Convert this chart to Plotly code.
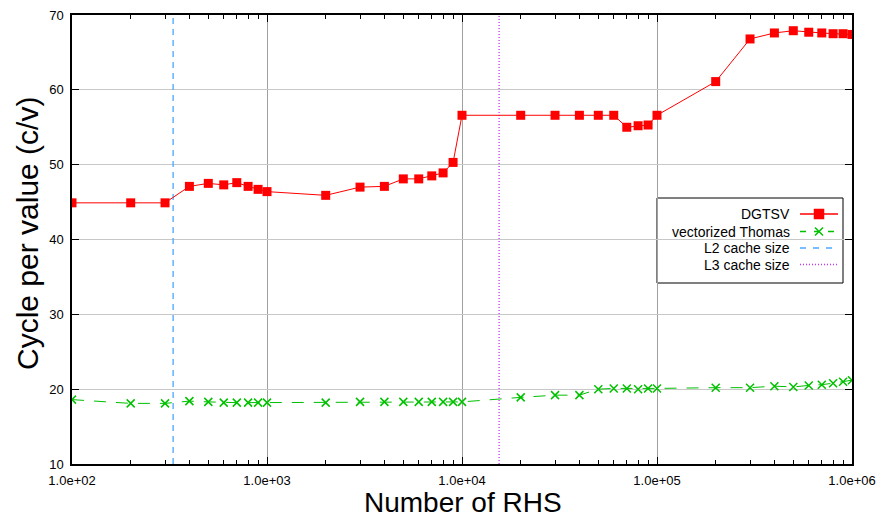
import plotly.graph_objects as go

rhs = [100, 200, 300, 400, 500, 600, 700, 800, 900,
       1000, 2000, 3000, 4000, 5000, 6000, 7000, 8000, 9000,
       10000, 20000, 30000, 40000, 50000, 60000, 70000, 80000, 90000,
       100000, 200000, 300000, 400000, 500000, 600000, 700000, 800000, 900000,
       1000000]
dgtsv = [44.9, 44.9, 44.9, 47.1, 47.5, 47.3, 47.6, 47.1, 46.7,
         46.4, 45.9, 47.0, 47.1, 48.1, 48.1, 48.5, 48.9, 50.3,
         56.6, 56.6, 56.6, 56.6, 56.6, 56.6, 55.0, 55.2, 55.3,
         56.6, 61.1, 66.8, 67.6, 67.9, 67.7, 67.6, 67.5, 67.5,
         67.4]
thomas = [18.6, 18.1, 18.1, 18.4, 18.3, 18.2, 18.2, 18.2, 18.2,
          18.2, 18.2, 18.3, 18.3, 18.3, 18.3, 18.3, 18.3, 18.3,
          18.3, 18.9, 19.2, 19.2, 20.0, 20.1, 20.1, 20.0, 20.1,
          20.1, 20.2, 20.2, 20.4, 20.3, 20.5, 20.6, 20.8, 21.0,
          21.2]
l2_cache = 330
l3_cache = 15500
y_range = [10, 70]
x_tickvals = [1e2, 1e3, 1e4, 1e5, 1e6]
x_ticktext = ["1.0e+02", "1.0e+03", "1.0e+04", "1.0e+05", "1.0e+06"]
y_tickvals = [10, 20, 30, 40, 50, 60, 70]
legend_names = ["DGTSV", "vectorized Thomas", "L2 cache size", "L3 cache size"]
x_title = "Number of RHS"
y_title = "Cycle per value (c/v)"

RED = "#ff0000"
GREEN = "#00c000"
BLUE = "#4da6ff"
MAGENTA = "#cc33ff"
FONT = "Liberation Sans, Arial"

fig = go.Figure()
fig.add_trace(go.Scatter(x=[l2_cache, l2_cache], y=y_range, mode="lines",
                         line=dict(color=BLUE, width=1.3, dash="6px,5px"), showlegend=False))
fig.add_trace(go.Scatter(x=[l3_cache, l3_cache], y=y_range, mode="lines",
                         line=dict(color=MAGENTA, width=1.3, dash="1px,2px"), showlegend=False))
fig.add_trace(go.Scatter(x=rhs, y=dgtsv, mode="lines+markers",
                         line=dict(color=RED, width=1),
                         marker=dict(symbol="square", size=9, color=RED), showlegend=False))
fig.add_trace(go.Scatter(x=rhs, y=thomas, mode="lines+markers",
                         line=dict(color=GREEN, width=1, dash="12px,10px"),
                         marker=dict(symbol="x-thin", size=8, color=GREEN,
                                     line=dict(color=GREEN, width=1.5)), showlegend=False))

# custom gnuplot-style legend (text on left, sample on right)
L, R, T, B = 72, 852, 15, 464
def px(xp): return (xp - L) / (R - L)
def py(yp): return (B - yp) / (B - T)

rows_y = [214, 231.5, 248, 264.5]
styles = [
    dict(color=RED, dash="solid", marker="square", msize=9),
    dict(color=GREEN, dash="6px,8px", marker="x-thin", msize=8),
    dict(color=BLUE, dash="6px,7px", marker=None, msize=0),
    dict(color=MAGENTA, dash="1px,2px", marker=None, msize=0),
]
annotations = []
for name, yy, st in zip(legend_names, rows_y, styles):
    annotations.append(dict(x=px(792), y=py(yy), xref="paper", yref="paper",
                            text=name, showarrow=False, xanchor="right", yanchor="middle",
                            font=dict(family=FONT, size=14, color="black")))
    mk = dict(symbol=st["marker"], size=st["msize"], color=st["color"],
              line=dict(color=st["color"], width=1.5)) if st["marker"] else None
    fig.add_trace(go.Scatter(x=[px(800), px(838)], y=[py(yy), py(yy)], mode="lines",
                             line=dict(color=st["color"], width=1.3, dash=st["dash"]),
                             xaxis="x2", yaxis="y2", showlegend=False, hoverinfo="skip"))
    if mk:
        fig.add_trace(go.Scatter(x=[px(819)], y=[py(yy)], mode="markers", marker=mk,
                                 xaxis="x2", yaxis="y2", showlegend=False, hoverinfo="skip"))

# axis titles
annotations.append(dict(x=px(463), y=py(502), xref="paper", yref="paper", text=x_title,
                        showarrow=False, xanchor="center", yanchor="middle",
                        font=dict(family=FONT, size=28, color="black")))
annotations.append(dict(x=px(27), y=py(234), xref="paper", yref="paper", text=y_title,
                        showarrow=False, xanchor="center", yanchor="middle", textangle=-90,
                        font=dict(family=FONT, size=30, color="black")))

fig.add_shape(type="rect", xref="paper", yref="paper",
              x0=px(657), x1=px(843), y0=py(283), y1=py(198),
              line=dict(color="black", width=1), fillcolor="white", layer="below")

fig.update_layout(
    width=882, height=518,
    margin=dict(l=L, r=882 - R, t=T, b=518 - B, autoexpand=False),
    paper_bgcolor="white", plot_bgcolor="white",
    font=dict(family=FONT, size=13, color="black"),
    annotations=annotations,
    xaxis=dict(type="log", range=[2, 6], tickvals=x_tickvals, ticktext=x_ticktext,
               showgrid=True, gridcolor="#a0a0a0", gridwidth=1, automargin=False,
               ticks="inside", ticklen=7, tickcolor="black", mirror="allticks",
               showline=True, linecolor="black", linewidth=1.5,
               ticklabelstandoff=4,
               minor=dict(ticks="inside", ticklen=4, tickcolor="black",
                          tickvals=[m * 10 ** e for e in range(2, 6) for m in range(2, 10)],
                          showgrid=False),
               zeroline=False),
    yaxis=dict(range=y_range, tickvals=y_tickvals, automargin=False,
               showgrid=True, gridcolor="#c8c8c8", gridwidth=1,
               ticks="inside", ticklen=7, tickcolor="black", mirror="allticks",
               showline=True, linecolor="black", linewidth=1.5,
               ticklabelstandoff=4,
               zeroline=False),
    xaxis2=dict(overlaying="x", range=[0, 1], visible=False, fixedrange=True),
    yaxis2=dict(overlaying="y", range=[0, 1], visible=False, fixedrange=True),
)

fig.write_html("out.html")
